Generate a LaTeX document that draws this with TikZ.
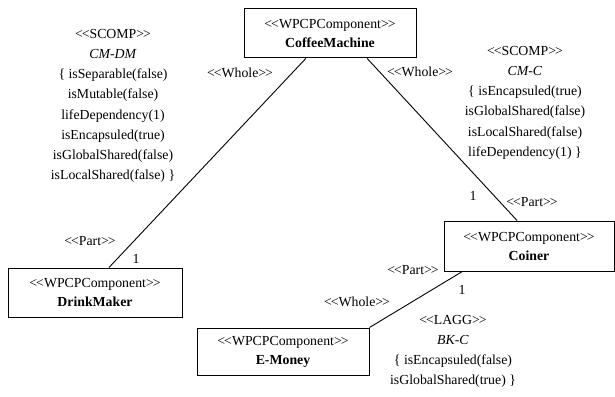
\documentclass[tikz,border=0pt]{standalone}
\usepackage{fontspec}
\setmainfont{Liberation Serif}
\usetikzlibrary{calc}
% guillemet-style brackets kept as two separate angle signs
\newcommand\stereo[1]{<\kern-1pt<#1>\kern-1pt>}
\begin{document}
\begin{tikzpicture}[x=1pt,y=-1pt,
  comp/.style={draw,line width=1pt,inner sep=0pt,align=center,
    font=\fontsize{13.8}{19}\selectfont},
  lbl/.style={inner sep=0pt,font=\fontsize{13.8}{16}\selectfont},
  note/.style={inner sep=0pt,align=center,font=\fontsize{13.8}{20.2}\selectfont},
  link/.style={line width=0.9pt}]
\useasboundingbox (0,0) rectangle (615,396);

% components
\node[comp,minimum width=172pt,minimum height=49pt] (cm) at (330,33.5)
  {\stereo{WPCPComponent}\\\textbf{CoffeeMachine}};
\node[comp,minimum width=174pt,minimum height=49pt] (dm) at (95,292.5)
  {\stereo{WPCPComponent}\\\textbf{DrinkMaker}};
\node[comp,minimum width=170pt,minimum height=50pt] (co) at (529,246)
  {\stereo{WPCPComponent}\\\textbf{Coiner}};
\node[comp,minimum width=172pt,minimum height=47pt] (em) at (283,351.5)
  {\stereo{WPCPComponent}\\\textbf{E-Money}};

% composition links
\draw[link] ($(cm.south west)!0.36!(cm.south east)$) -- ($(dm.north west)!0.58!(dm.north east)$);
\draw[link] ($(cm.south west)!0.715!(cm.south east)$) -- ($(co.north west)!0.43!(co.north east)$);
\draw[link] ($(co.south west)!0.11!(co.south east)$) -- (em.north east);

% role labels and multiplicities
\node[lbl] (w1) at (240,73) {\stereo{Whole}};
\node[lbl] (p1) at (90,241) {\stereo{Part}};
\node[lbl] (m1) at (136,259) {1};
\node[lbl] (w2) at (420,72) {\stereo{Whole}};
\node[lbl] (m2) at (473,196) {1};
\node[lbl] (p2) at (532,202) {\stereo{Part}};
\node[lbl] (p3) at (413,270) {\stereo{Part}};
\node[lbl] (m3) at (462,290) {1};
\node[lbl] (w3) at (357,302) {\stereo{Whole}};

% relation properties
\node[note,anchor=north] (n1) at (113,29) {\stereo{SCOMP}\\\textit{CM-DM}\\\{ isSeparable(false)\\isMutable(false)\\lifeDependency(1)\\isEncapsuled(true)\\isGlobalShared(false)\\isLocalShared(false) \}};
\node[note,anchor=north] (n2) at (525,46) {\stereo{SCOMP}\\\textit{CM-C}\\\{ isEncapsuled(true)\\isGlobalShared(false)\\isLocalShared(false)\\lifeDependency(1) \}};
\node[note,anchor=north] (n3) at (453,315) {\stereo{LAGG}\\\textit{BK-C}\\\{ isEncapsuled(false)\\isGlobalShared(true) \}};
\end{tikzpicture}
\end{document}
